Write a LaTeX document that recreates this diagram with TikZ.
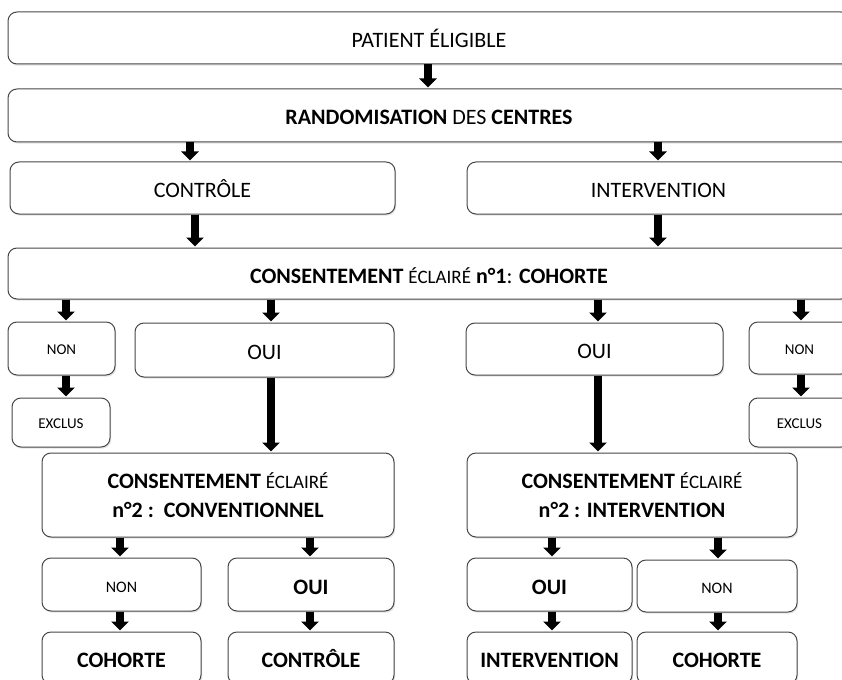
\documentclass[tikz,border=0pt]{standalone}
\usepackage{fontspec}
\setmainfont{Carlito}
\usetikzlibrary{arrows.meta,shadows}
\newcommand\ecl{{\fontsize{19}{29}\selectfont ÉCLAIRÉ}}
\begin{document}
\begin{tikzpicture}[x=1pt,y=-1pt,
  box/.style={draw=black!72, line width=1pt, rounded corners=9pt, fill=white,
    align=center, inner sep=0pt, font=\fontsize{22}{29}\selectfont,
    drop shadow={shadow xshift=1.2pt, shadow yshift=-1.6pt, opacity=0.22}},
  one/.style={text height=19pt, text depth=0pt},
  small/.style={font=\fontsize{15}{18}\selectfont, text height=12.5pt, text depth=0pt},
  smallb/.style={font=\fontsize{16}{19}\selectfont, text height=15.3pt, text depth=0pt},
  arr/.style={line width=8pt, shorten >=1pt, -{Triangle[width=17pt,length=9pt]}}]
\useasboundingbox (0,0) rectangle (842,679);
\clip (0,0) rectangle (842,679);
\fill[white] (0,0) rectangle (842,679);

% row 1-2
\node[box, one, minimum width=842pt, minimum height=52pt] (pat) at (429,38) {PATIENT ÉLIGIBLE};
\node[box, one, minimum width=842pt, minimum height=53pt] (rand) at (429,115.5) {\textbf{RANDOMISATION} DES \textbf{CENTRES}};
% row 3
\node[box, one, minimum width=385pt, minimum height=52pt] (ctrl) at (202.5,188) {CONTRÔLE};
\node[box, one, minimum width=383pt, minimum height=52pt] (intv) at (658.5,188) {INTERVENTION};
% row 4
\node[box, one, minimum width=842pt, minimum height=51pt] (cons1) at (429,273.5) {\textbf{CONSENTEMENT} \ecl{} \textbf{n°1}: \textbf{COHORTE}};
% row 5
\node[box, small, minimum width=107pt, minimum height=53pt] (non1) at (61.5,348.5) {NON};
\node[box, one, minimum width=259pt, minimum height=54pt] (oui1) at (264.5,350) {OUI};
\node[box, one, minimum width=257pt, minimum height=52pt] (oui2) at (594.5,349) {OUI};
\node[box, small, minimum width=101pt, minimum height=52pt] (non2) at (799.5,348) {NON};
% row 5b
\node[box, small, minimum width=98pt, minimum height=49pt] (excl1) at (61,422.5) {EXCLUS};
\node[box, small, minimum width=101pt, minimum height=49pt] (excl2) at (799.5,422.5) {EXCLUS};
% row 6
\node[box, minimum width=352pt, minimum height=84pt] (cons2a) at (218,495) {\textbf{CONSENTEMENT} \ecl\\\textbf{n°2 :\ \ CONVENTIONNEL}};
\node[box, minimum width=330pt, minimum height=84pt] (cons2b) at (632,495) {\textbf{CONSENTEMENT} \ecl\\\textbf{n°2 : INTERVENTION}};
% row 7
\node[box, smallb, minimum width=159pt, minimum height=53pt] (non3) at (121.5,584.5) {NON};
\node[box, one, minimum width=166pt, minimum height=53pt] (oui3) at (311,584.5) {\textbf{OUI}};
\node[box, one, minimum width=165pt, minimum height=53pt] (oui4) at (549.5,584.5) {\textbf{OUI}};
\node[box, smallb, minimum width=160pt, minimum height=52pt] (non4) at (717,586) {NON};
% row 8
\node[box, one, minimum width=159pt, minimum height=52pt] (coh1) at (121.5,658) {\textbf{COHORTE}};
\node[box, one, minimum width=166pt, minimum height=52pt] (ctl2) at (311,658) {\textbf{CONTRÔLE}};
\node[box, one, minimum width=165pt, minimum height=52pt] (intv2) at (549.5,658) {\textbf{INTERVENTION}};
\node[box, one, minimum width=160pt, minimum height=52pt] (coh2) at (717,658) {\textbf{COHORTE}};

% arrow x positions
\coordinate (xa) at (428,0);
\coordinate (xb) at (190,0);
\coordinate (xc) at (658,0);
\coordinate (xd) at (195,0);
\coordinate (xe) at (66,0);
\coordinate (xf) at (271,0);
\coordinate (xg) at (598,0);
\coordinate (xh) at (801,0);
\coordinate (xi) at (120,0);
\coordinate (xj) at (310,0);
\coordinate (xk) at (552,0);
\coordinate (xl) at (718,0);

\draw[arr] (pat.south -| xa) -- (rand.north -| xa);
\draw[arr] (rand.south -| xb) -- (ctrl.north -| xb);
\draw[arr] (rand.south -| xc) -- (intv.north -| xc);
\draw[arr] (ctrl.south -| xd) -- (cons1.north -| xd);
\draw[arr] (intv.south -| xc) -- (cons1.north -| xc);
\draw[arr] (cons1.south -| xe) -- (non1.north -| xe);
\draw[arr] (cons1.south -| xf) -- (oui1.north -| xf);
\draw[arr] (cons1.south -| xg) -- (oui2.north -| xg);
\draw[arr] (cons1.south -| xh) -- (non2.north -| xh);
\draw[arr] (non1.south -| xe) -- (excl1.north -| xe);
\draw[arr] (non2.south -| xh) -- (excl2.north -| xh);
\draw[arr] (oui1.south -| xf) -- (cons2a.north -| xf);
\draw[arr] (oui2.south -| xg) -- (cons2b.north -| xg);
\draw[arr] (cons2a.south -| xi) -- (non3.north -| xi);
\draw[arr] (cons2a.south -| xj) -- (oui3.north -| xj);
\draw[arr] (cons2b.south -| xk) -- (oui4.north -| xk);
\draw[arr] (cons2b.south -| xl) -- (non4.north -| xl);
\draw[arr] (non3.south -| xi) -- (coh1.north -| xi);
\draw[arr] (oui3.south -| xj) -- (ctl2.north -| xj);
\draw[arr] (oui4.south -| xk) -- (intv2.north -| xk);
\draw[arr] (non4.south -| xl) -- (coh2.north -| xl);
\end{tikzpicture}
\end{document}
